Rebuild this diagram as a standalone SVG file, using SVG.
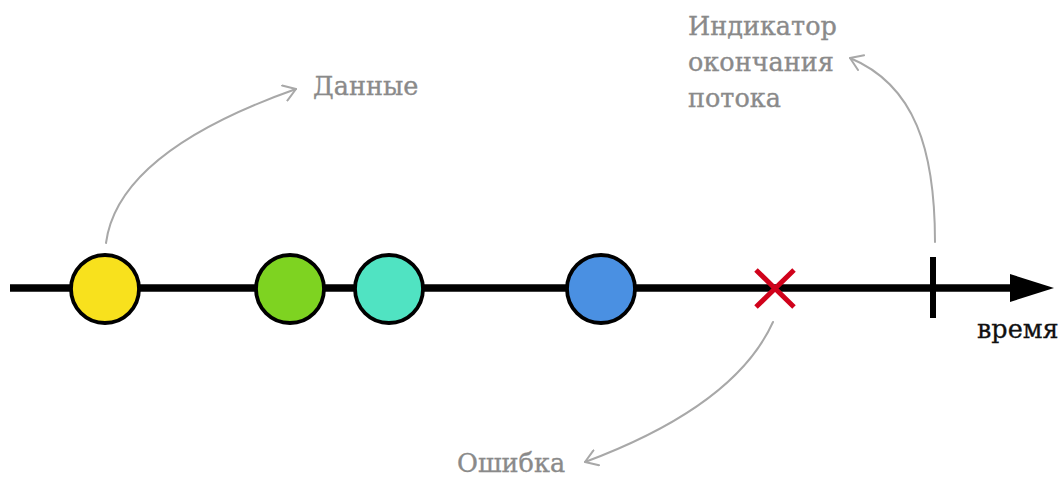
<svg xmlns="http://www.w3.org/2000/svg" width="1064" height="479" viewBox="0 0 1064 479">
  <style>
    .label { font-family: "DejaVu Serif", "Liberation Serif", serif; font-size: 25.5px; fill: #8a8a8a; stroke: #8a8a8a; stroke-width: 0.35; }
    .axis-label { font-family: "DejaVu Serif", "Liberation Serif", serif; font-size: 25.5px; fill: #111; stroke: #111; stroke-width: 0.3; }
    .event { stroke: #000; stroke-width: 3.8; }
    .pointer { fill: none; stroke: #a8a8a8; stroke-width: 2; stroke-linecap: round; }
  </style>
  <defs>
    <marker id="chevron" viewBox="0 0 14 18" refX="13" refY="9" markerWidth="14" markerHeight="18" markerUnits="userSpaceOnUse" orient="auto">
      <path d="M1,1 L13,9 L1,17" fill="none" stroke="#a8a8a8" stroke-width="2" stroke-linecap="round" stroke-linejoin="round"/>
    </marker>
  </defs>
  <rect width="1064" height="479" fill="#fff"/>

  <!-- time axis -->
  <g id="timeline">
    <line x1="10" y1="288" x2="1015" y2="288" stroke="#000" stroke-width="7.5"/>
    <polygon points="1010,274 1054,288 1010,302" fill="#000"/>
    <text class="axis-label" x="977" y="338">время</text>
  </g>

  <!-- annotation arrows -->
  <g id="connectors">
    <path class="pointer" d="M106,243 Q118,152 296,89" marker-end="url(#chevron)"/>
    <path class="pointer" d="M935,242 C935,150 915,85 850,58" marker-end="url(#chevron)"/>
    <path class="pointer" d="M773,322 Q735,406 585,462" marker-end="url(#chevron)"/>
  </g>

  <!-- emitted values -->
  <g id="value-yellow"><circle class="event" cx="105" cy="289" r="34" fill="#f8e11d"/></g>
  <g id="value-green"><circle class="event" cx="290" cy="289" r="34" fill="#7ed321"/></g>
  <g id="value-teal"><circle class="event" cx="389" cy="289" r="34" fill="#50e3c2"/></g>
  <g id="value-blue"><circle class="event" cx="601" cy="289" r="34" fill="#4a90e2"/></g>

  <!-- error -->
  <g id="error">
    <path d="M756,270 L794,307 M794,270 L756,307" stroke="#d0021b" stroke-width="5"/>
  </g>

  <!-- completion tick -->
  <g id="complete">
    <line x1="933" y1="257" x2="933" y2="318" stroke="#000" stroke-width="6"/>
  </g>

  <!-- labels -->
  <g id="label-data"><text class="label" x="313" y="95">Данные</text></g>
  <g id="label-complete">
    <text class="label" x="688" y="35">Индикатор</text>
    <text class="label" x="688" y="71">окончания</text>
    <text class="label" x="688" y="107">потока</text>
  </g>
  <g id="label-error"><text class="label" x="457" y="472">Ошибка</text></g>
</svg>
